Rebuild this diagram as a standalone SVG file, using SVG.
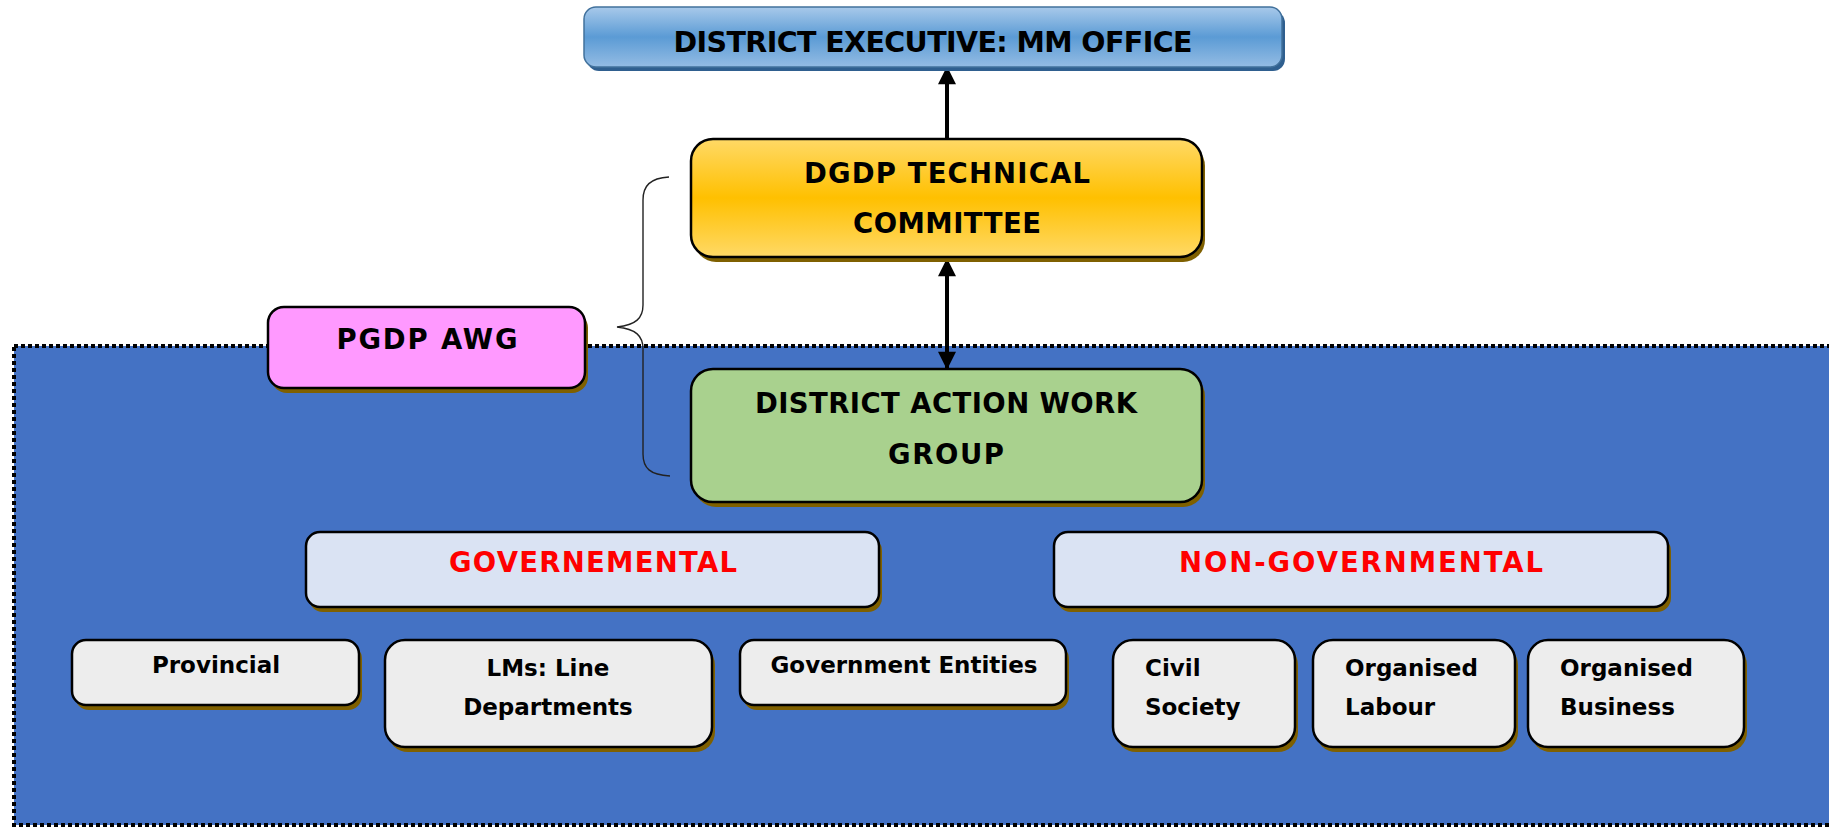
<svg xmlns="http://www.w3.org/2000/svg" width="1829" height="829" viewBox="0 0 1829 829">
<style>
text{font-family:"DejaVu Sans","Liberation Sans",sans-serif;font-weight:bold;fill:#000}
.big{font-size:27.5px}
.sm{font-size:23px;font-weight:bold}
.red{fill:#ff0000}
.node{stroke:#000;stroke-width:2.5}
.sh{fill:#7f6000}
.conn{stroke:#000;stroke-width:4;fill:none}
</style>
<defs>
<linearGradient id="gBlue" x1="0" y1="0" x2="0" y2="1">
<stop offset="0" stop-color="#a8c9ea"/>
<stop offset="0.5" stop-color="#5b9bd5"/>
<stop offset="1" stop-color="#94bce4"/>
</linearGradient>
<linearGradient id="gOrange" x1="0" y1="0" x2="0" y2="1">
<stop offset="0" stop-color="#ffd966"/>
<stop offset="0.5" stop-color="#ffc000"/>
<stop offset="1" stop-color="#ffd966"/>
</linearGradient>
<marker id="ah" viewBox="0 0 10 10" refX="9" refY="5" markerWidth="5" markerHeight="4.5" orient="auto-start-reverse" markerUnits="strokeWidth">
<path d="M0,0 L10,5 L0,10 z" fill="#000"/>
</marker>
</defs>
<rect x="0" y="0" width="1829" height="829" fill="#fff"/>
<rect id="region" x="14" y="346" width="1830" height="479" fill="#4472c4" stroke="#000" stroke-width="4" stroke-dasharray="4 3"/>
<g id="connectors">
<line class="conn" x1="947" y1="139" x2="947" y2="68" marker-end="url(#ah)"/>
<line class="conn" x1="947" y1="260" x2="947" y2="368" marker-start="url(#ah)" marker-end="url(#ah)"/>
<path d="M669,177 C650,178 643,186 643,200 L643,305 C643,318 636,325 617,327 C636,329 643,336 643,349 L643,454 C643,468 650,475 670,476" fill="none" stroke="#222" stroke-width="1.4"/>
</g>
<g id="n-top">
<rect x="587" y="11" width="698" height="60" rx="12" fill="#2f5f8f"/>
<rect x="584" y="7" width="698" height="60" rx="12" fill="url(#gBlue)" stroke="#41719c" stroke-width="1.5"/>
<text x="933" y="52" font-size="28.5" text-anchor="middle" textLength="519">DISTRICT EXECUTIVE: MM OFFICE</text>
</g>
<g id="n-dgdp">
<rect class="sh" x="694" y="144" width="511" height="118" rx="22"/>
<rect class="node" x="691" y="139" width="511" height="118" rx="22" fill="url(#gOrange)"/>
<text class="big" x="947" y="183" text-anchor="middle" textLength="286">DGDP TECHNICAL</text>
<text class="big" x="947" y="233" text-anchor="middle" textLength="188">COMMITTEE</text>
</g>
<g id="n-pgdp">
<rect class="sh" x="271" y="312" width="317" height="81" rx="16"/>
<rect class="node" x="268" y="307" width="317" height="81" rx="16" fill="#ff99ff"/>
<text class="big" x="427" y="349" text-anchor="middle" textLength="181">PGDP AWG</text>
</g>
<g id="n-dawg">
<rect class="sh" x="694" y="374" width="511" height="133" rx="22"/>
<rect class="node" x="691" y="369" width="511" height="133" rx="22" fill="#a9d18e"/>
<text class="big" x="946" y="413" text-anchor="middle" textLength="382">DISTRICT ACTION WORK</text>
<text class="big" x="946" y="464" text-anchor="middle" textLength="116">GROUP</text>
</g>
<g id="n-gov">
<rect class="sh" x="309" y="537" width="573" height="75" rx="14"/>
<rect class="node" x="306" y="532" width="573" height="75" rx="14" fill="#dae3f3"/>
<text class="big red" x="593" y="572" text-anchor="middle" textLength="288">GOVERNEMENTAL</text>
</g>
<g id="n-nongov">
<rect class="sh" x="1057" y="537" width="614" height="75" rx="14"/>
<rect class="node" x="1054" y="532" width="614" height="75" rx="14" fill="#dae3f3"/>
<text class="big red" x="1361" y="572" text-anchor="middle" textLength="364">NON-GOVERNMENTAL</text>
</g>
<g id="n-prov">
<rect class="sh" x="75" y="645" width="287" height="65" rx="14"/>
<rect class="node" x="72" y="640" width="287" height="65" rx="14" fill="#ededed"/>
<text class="sm" x="216" y="673" text-anchor="middle">Provincial</text>
</g>
<g id="n-lms">
<rect class="sh" x="388" y="645" width="327" height="107" rx="20"/>
<rect class="node" x="385" y="640" width="327" height="107" rx="20" fill="#ededed"/>
<text class="sm" x="548" y="676" text-anchor="middle">LMs: Line</text>
<text class="sm" x="548" y="715" text-anchor="middle">Departments</text>
</g>
<g id="n-goventities">
<rect class="sh" x="743" y="645" width="326" height="65" rx="14"/>
<rect class="node" x="740" y="640" width="326" height="65" rx="14" fill="#ededed"/>
<text class="sm" x="904" y="673" text-anchor="middle">Government Entities</text>
</g>
<g id="n-civil">
<rect class="sh" x="1116" y="645" width="182" height="107" rx="20"/>
<rect class="node" x="1113" y="640" width="182" height="107" rx="20" fill="#ededed"/>
<text class="sm" x="1145" y="676">Civil</text>
<text class="sm" x="1145" y="715">Society</text>
</g>
<g id="n-labour">
<rect class="sh" x="1316" y="645" width="202" height="107" rx="20"/>
<rect class="node" x="1313" y="640" width="202" height="107" rx="20" fill="#ededed"/>
<text class="sm" x="1345" y="676">Organised</text>
<text class="sm" x="1345" y="715">Labour</text>
</g>
<g id="n-business">
<rect class="sh" x="1531" y="645" width="216" height="107" rx="20"/>
<rect class="node" x="1528" y="640" width="216" height="107" rx="20" fill="#ededed"/>
<text class="sm" x="1560" y="676">Organised</text>
<text class="sm" x="1560" y="715">Business</text>
</g>
</svg>
